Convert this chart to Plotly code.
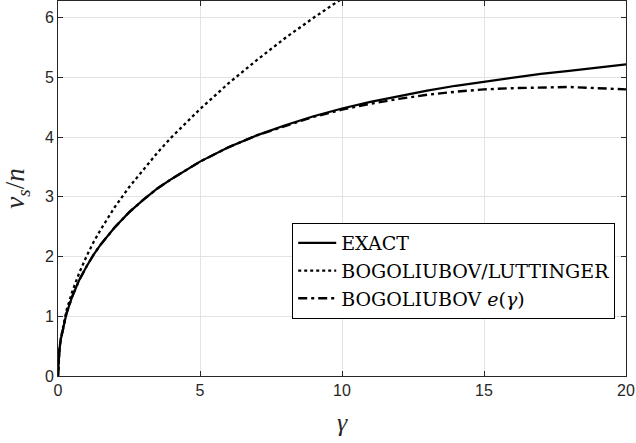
import plotly.graph_objects as go

# Interaction strength gamma and sound velocity v_s/n for each model
gamma = [0, 0.02, 0.05, 0.1, 0.2, 0.3, 0.5, 0.75, 1, 1.25, 1.5, 2, 2.5, 3, 3.5, 4,
         5, 6, 7, 8, 9, 10, 11, 12, 13, 14, 15, 16, 17, 18, 19, 20]

v_exact = [0, 0.28, 0.44, 0.62, 0.86, 1.05, 1.33, 1.61, 1.83, 2.03, 2.20, 2.49, 2.74,
           2.95, 3.14, 3.30, 3.59, 3.83, 4.03, 4.20, 4.35, 4.48, 4.59, 4.69, 4.78,
           4.86, 4.93, 4.99, 5.06, 5.11, 5.17, 5.22]

gamma_lutt = [0, 0.02, 0.05, 0.1, 0.2, 0.3, 0.5, 0.75, 1, 1.25, 1.5, 2, 2.5, 3, 3.5, 4,
              5, 6, 7, 8, 9, 10]
v_lutt = [0, 0.28, 0.45, 0.63, 0.89, 1.10, 1.41, 1.73, 2.00, 2.24, 2.45, 2.83, 3.16,
          3.46, 3.74, 4.00, 4.47, 4.90, 5.29, 5.66, 6.00, 6.32]

v_bog = [0, 0.28, 0.44, 0.62, 0.86, 1.05, 1.33, 1.61, 1.83, 2.03, 2.20, 2.49, 2.74,
         2.95, 3.14, 3.30, 3.59, 3.83, 4.03, 4.19, 4.34, 4.46, 4.56, 4.64, 4.71,
         4.76, 4.80, 4.82, 4.83, 4.84, 4.82, 4.80]

x_ticks = [0, 5, 10, 15, 20]
y_ticks = [0, 1, 2, 3, 4, 5, 6]

AX = "#262626"
GRID = "#e3e3e3"
SERIF = '"Liberation Serif", "Times New Roman", Times, serif'
LEGEND_SERIF = '"DejaVu Serif", "Liberation Serif", serif'
SANS = '"Liberation Sans", Arial, Helvetica, sans-serif'

fig = go.Figure()
fig.add_trace(go.Scatter(x=gamma, y=v_exact, mode="lines", name="EXACT",
                         line=dict(color="black", width=2.2)))
fig.add_trace(go.Scatter(x=gamma_lutt, y=v_lutt, mode="lines",
                         name="BOGOLIUBOV/LUTTINGER",
                         line=dict(color="black", width=2.3, dash="dot")))
fig.add_trace(go.Scatter(x=gamma, y=v_bog, mode="lines",
                         name="BOGOLIUBOV <i>e</i>(<i>γ</i>)",
                         line=dict(color="black", width=2.4, dash="9px,4px,3px,4px")))

axis_common = dict(
    showline=True, linecolor=AX, linewidth=1, mirror="ticks",
    ticks="inside", ticklen=5, tickwidth=1, tickcolor=AX,
    showgrid=True, gridcolor=GRID, gridwidth=1, zeroline=False,
    tickfont=dict(family=SANS, size=16, color=AX),
)

fig.update_xaxes(range=[0, 20], tickvals=x_ticks,
                 title=dict(text="<i>γ</i>", font=dict(family=SERIF, size=26, color=AX),
                            standoff=14),
                 **axis_common)
fig.update_yaxes(range=[0, 6.28], tickvals=y_ticks,
                 title=dict(text="<i>v</i><sub><i>s</i></sub>/<i>n</i>",
                            font=dict(family=SERIF, size=27, color=AX), standoff=12),
                 **axis_common)

fig.update_layout(
    width=636, height=443,
    margin=dict(l=58, r=10, t=1, b=67),
    paper_bgcolor="white", plot_bgcolor="white",
    showlegend=True,
    legend=dict(
        x=0.981, y=0.408, xanchor="right", yanchor="top",
        bgcolor="white", bordercolor="black", borderwidth=1,
        font=dict(family=LEGEND_SERIF, size=19, color="black"),
        tracegroupgap=0, itemwidth=38,
    ),
)

fig.write_html("out.html")
